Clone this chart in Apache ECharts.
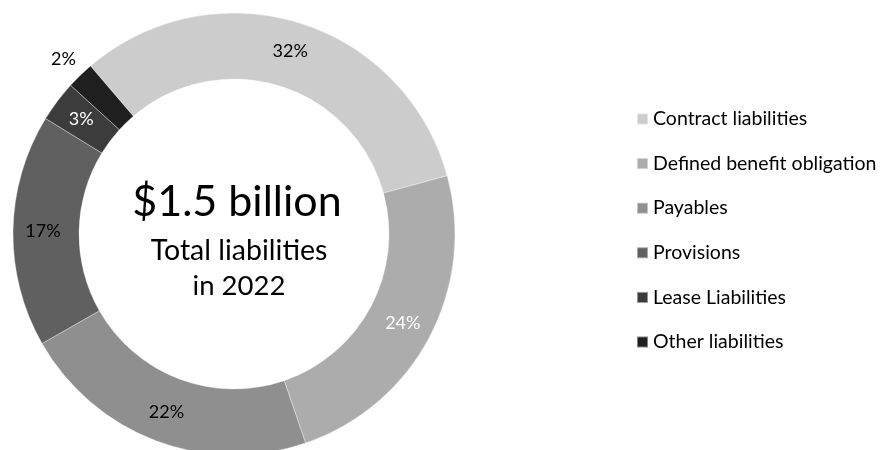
<!DOCTYPE html>
<html>
<head>
<meta charset="utf-8">
<script src="https://cdn.jsdelivr.net/npm/echarts@6/dist/echarts.min.js"></script>
<style>
  html, body { margin: 0; padding: 0; background: #ffffff; }
  #chart { width: 880px; height: 450px; }
</style>
</head>
<body>
<div id="chart"></div>
<script>
// Liability breakdown, 2022 (share of total, %)
const categories = [
  'Contract liabilities',
  'Defined benefit obligation',
  'Payables',
  'Provisions',
  'Lease Liabilities',
  'Other liabilities'
];
const shares = [32, 24, 22, 17, 3, 2];
const sliceColors = ['#cccccc', '#acacac', '#8f8f8f', '#606060', '#3c3c3c', '#1f1f1f'];
const labelColors = ['#000000', '#ffffff', '#000000', '#000000', '#ffffff', '#000000'];

const centerHeadline = '$1.5 billion';
const centerLines = ['Total liabilities', 'in 2022'];

const FONT = 'Lato, "Noto Sans", sans-serif';

const chart = echarts.init(document.getElementById('chart'), null, { renderer: 'canvas' });

const pieData = categories.map((name, i) => {
  const item = {
    name: name,
    value: shares[i],
    itemStyle: { color: sliceColors[i] },
    label: { color: labelColors[i] }
  };
  // the thinnest slice carries its label just outside the ring
  if (i === categories.length - 1) {
    item.label.position = 'outside';
    item.label.distanceToLabelLine = -11;
    item.labelLine = { show: false, length: 22, length2: 0 };
  }
  return item;
});

chart.setOption({
  animation: false,
  backgroundColor: '#ffffff',
  legend: {
    orient: 'vertical',
    left: 636,
    top: 109,
    padding: 0,
    icon: 'rect',
    itemWidth: 11,
    itemHeight: 11,
    itemGap: 24.6,
    selectedMode: false,
    textStyle: { fontFamily: FONT, fontSize: 19.5, color: '#000000', lineHeight: 19 },
    data: categories
  },
  graphic: [
    {
      type: 'text',
      z: 100,
      style: {
        x: 237, y: 202, text: centerHeadline, fontFamily: FONT, fontSize: 43,
        fill: '#000000', align: 'center', verticalAlign: 'middle'
      }
    },
    {
      type: 'text',
      z: 100,
      style: {
        x: 239, y: 251, text: centerLines[0], fontFamily: FONT, fontSize: 28.5,
        fill: '#000000', align: 'center', verticalAlign: 'middle'
      }
    },
    {
      type: 'text',
      z: 100,
      style: {
        x: 239, y: 286, text: centerLines[1], fontFamily: FONT, fontSize: 27.5,
        fill: '#000000', align: 'center', verticalAlign: 'middle'
      }
    }
  ],
  series: [{
    type: 'pie',
    center: [234, 234],
    radius: [155, 221],
    startAngle: 130.5,
    clockwise: true,
    avoidLabelOverlap: false,
    itemStyle: { borderColor: 'rgba(255,255,255,0.45)', borderWidth: 0.8 },
    label: {
      show: true,
      position: 'inside',
      formatter: '{c}%',
      fontFamily: FONT,
      fontSize: 18
    },
    labelLine: { show: false },
    emphasis: { disabled: true },
    data: pieData
  }]
});
</script>
</body>
</html>
